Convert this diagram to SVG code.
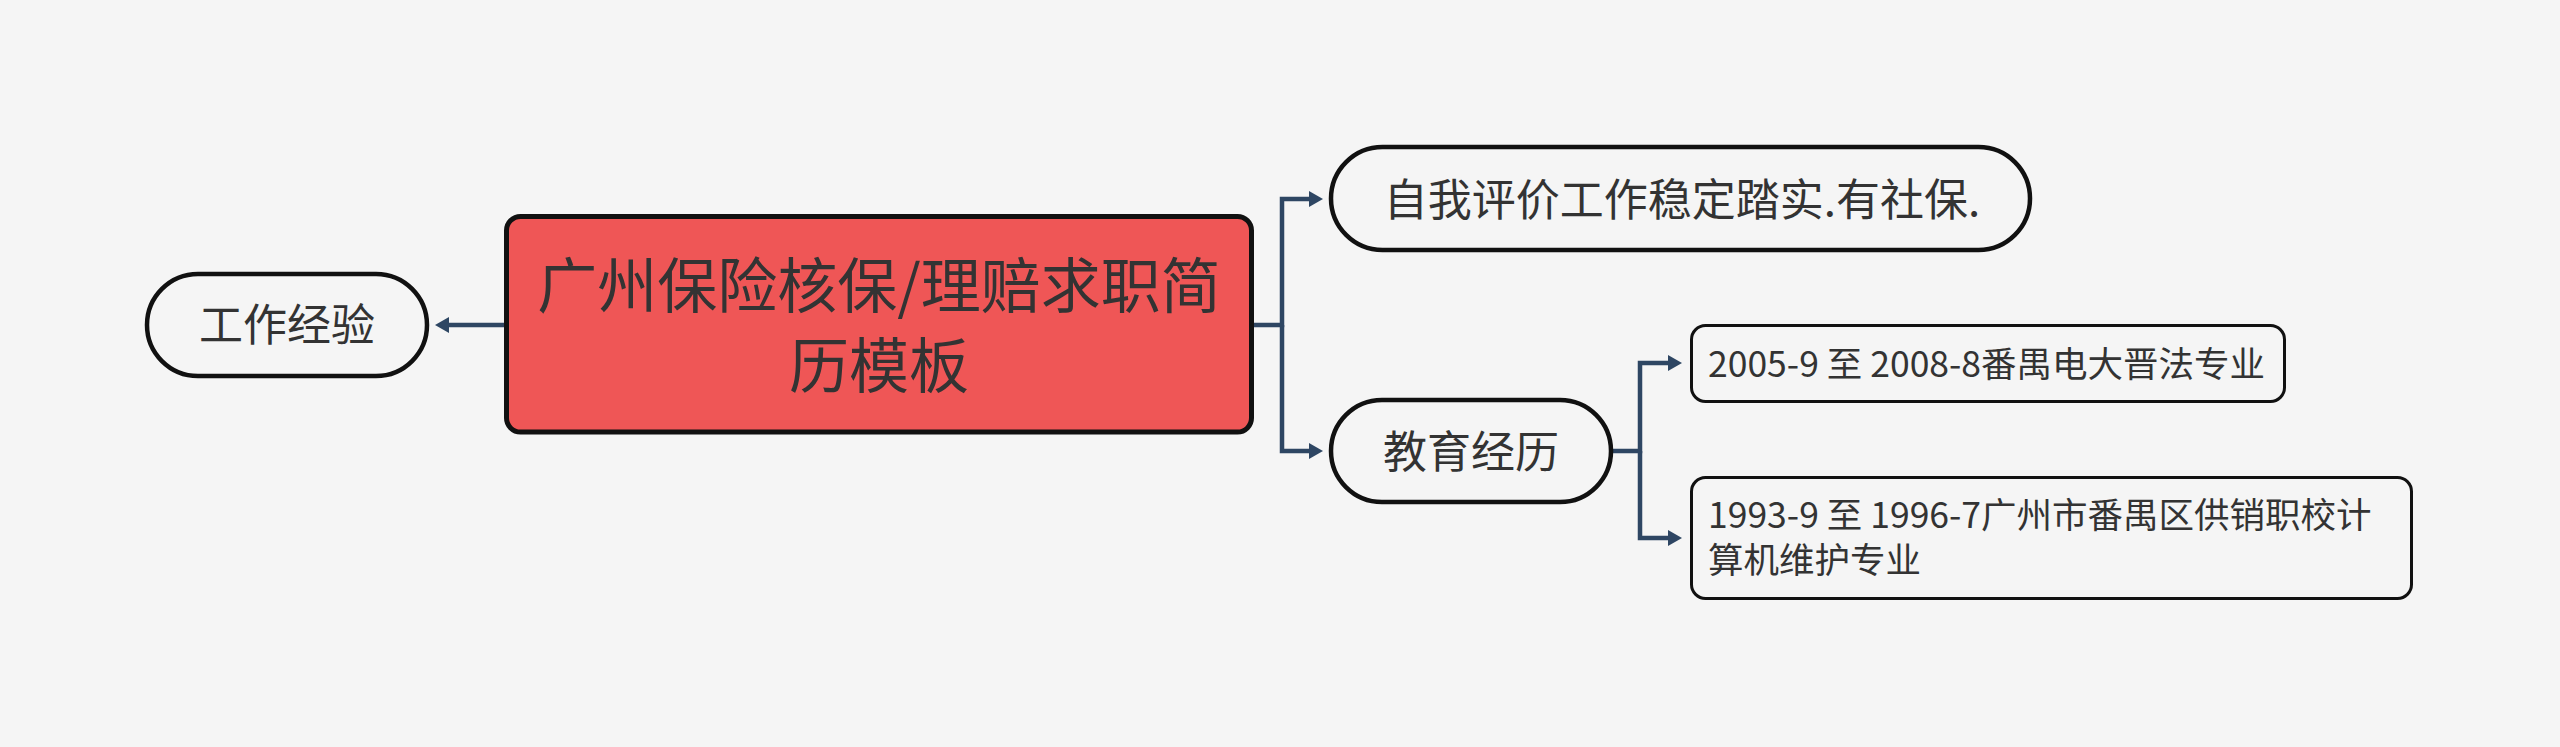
<svg xmlns="http://www.w3.org/2000/svg" width="2560" height="747" viewBox="0 0 2560 747">
<defs>
<style>
.t{font-family:"Noto Sans CJK SC","Noto Sans",sans-serif;fill:#333333}
.main{fill:#EF5656;stroke:#111111;stroke-width:5}
.pill{fill:#F5F5F5;stroke:#111111;stroke-width:4.5}
.box{fill:#F5F5F5;stroke:#111111;stroke-width:3}
.con{fill:none;stroke:#2E4663;stroke-width:4.5;stroke-linejoin:miter}
</style>
<marker id="arr" viewBox="0 0 14 16" refX="4" refY="8" markerWidth="14" markerHeight="16" markerUnits="userSpaceOnUse" orient="auto">
<path d="M0 0 L14 8 L0 16 Z" fill="#2E4663"/>
</marker>
</defs>
<rect width="2560" height="747" fill="#F5F5F5"/>
<g id="connectors">
<path class="con" d="M504 325 H445" marker-end="url(#arr)"/>
<path class="con" d="M1254 325 H1282 V199 H1313" marker-end="url(#arr)"/>
<path class="con" d="M1282 325 V451 H1313" marker-end="url(#arr)"/>
<path class="con" d="M1613 451 H1640 V363 H1672" marker-end="url(#arr)"/>
<path class="con" d="M1640 451 V538 H1672" marker-end="url(#arr)"/>
</g>
<g id="central">
<rect class="main" x="506.5" y="216.5" width="745" height="215.5" rx="14"/>
<text class="t" font-size="60" text-anchor="middle"><tspan x="879" y="308">广州保险核保/理赔求职简</tspan><tspan x="879" y="388">历模板</tspan></text>
</g>
<g id="work">
<rect class="pill" x="147" y="274" width="280" height="102" rx="51"/>
<text class="t" x="287" y="341" font-size="44" text-anchor="middle">工作经验</text>
</g>
<g id="self">
<rect class="pill" x="1331" y="147" width="699" height="103" rx="51.5"/>
<text class="t" x="1682" y="216" font-size="44" text-anchor="middle">自我评价工作稳定踏实.有社保.</text>
</g>
<g id="edu">
<rect class="pill" x="1331" y="400" width="280" height="102" rx="51"/>
<text class="t" x="1471" y="468" font-size="44" text-anchor="middle">教育经历</text>
</g>
<g id="edu1">
<rect class="box" x="1691.5" y="325.5" width="593" height="76" rx="14"/>
<text class="t" x="1708" y="377" font-size="35.5">2005-9 至 2008-8番禺电大晋法专业</text>
</g>
<g id="edu2">
<rect class="box" x="1691.5" y="477.5" width="720" height="121" rx="14"/>
<text class="t" font-size="35.5"><tspan x="1708" y="528">1993-9 至 1996-7广州市番禺区供销职校计</tspan><tspan x="1708" y="573">算机维护专业</tspan></text>
</g>
</svg>
